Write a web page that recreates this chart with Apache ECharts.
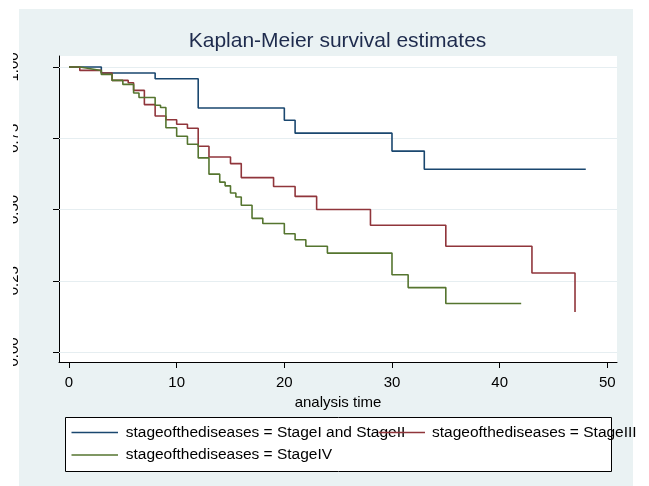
<!DOCTYPE html>
<html>
<head>
<meta charset="utf-8">
<script src="https://cdn.jsdelivr.net/npm/echarts@6/dist/echarts.min.js"></script>
<style>
html, body { margin: 0; padding: 0; background: #fff; }
#chart { width: 649px; height: 486px; }
</style>
</head>
<body>
<div id="chart"></div>
<script>
// Kaplan-Meier 生存曲线 (Stata 风格)

// 刻度
const xTicks = [0, 10, 20, 30, 40, 50];
const yTicks = [0, 0.25, 0.5, 0.75, 1];

// 分组名称
const groupNames = [
    'stageofthediseases = StageI and StageII',
    'stageofthediseases = StageIII',
    'stageofthediseases = StageIV'
];

// StageI and StageII
const stage12Time = [0, 3, 8, 12, 20, 21, 30, 33, 48];
const stage12Surv = [1, 0.979, 0.959, 0.856, 0.813, 0.768, 0.705, 0.641, 0.641];

// StageIII
const stage3Time = [0, 1, 3, 4, 5.5, 6, 7, 8, 9, 10, 11, 12, 13, 15, 16, 19, 21, 23, 28, 35, 43, 47];
const stage3Surv = [1, 0.988, 0.979, 0.953, 0.945, 0.918, 0.868, 0.828, 0.815, 0.799, 0.785, 0.722, 0.684, 0.661, 0.612, 0.581, 0.546, 0.500, 0.445, 0.371, 0.277, 0.140];

// StageIV
const stage4Time = [0, 1, 2, 3, 4, 5, 6, 6.5, 8, 8.5, 9, 10, 11, 12, 13, 14, 14.5, 15, 15.5, 16, 17, 18, 20, 21, 22, 24, 30, 31.5, 35, 42];
const stage4Surv = [1, 0.994, 0.988, 0.974, 0.953, 0.939, 0.909, 0.893, 0.866, 0.858, 0.787, 0.757, 0.729, 0.681, 0.624, 0.596, 0.583, 0.558, 0.544, 0.515, 0.469, 0.451, 0.415, 0.394, 0.371, 0.347, 0.271, 0.226, 0.170, 0.170];

const colors = ['#1a476f', '#90353b', '#55752f'];
const FONT = 'Liberation Sans, Arial, sans-serif';

function pairs(t, s) {
    return t.map((v, i) => [v, s[i]]);
}

const chart = echarts.init(document.getElementById('chart'));

const curves = [
    pairs(stage12Time, stage12Surv),
    pairs(stage3Time, stage3Surv),
    pairs(stage4Time, stage4Surv)
];

const series = [{
    // 水平网格线
    type: 'line',
    data: [],
    z: 1,
    silent: true,
    markLine: {
        silent: true,
        z: 1,
        symbol: 'none',
        label: { show: false },
        lineStyle: { color: '#e6eef1', width: 1, type: 'solid' },
        data: yTicks.map(v => ({ yAxis: v }))
    }
}];

curves.forEach((d, i) => {
    series.push({
        name: groupNames[i],
        type: 'line',
        step: 'end',
        data: d,
        showSymbol: false,
        z: 3,
        lineStyle: { color: colors[i], width: 1.6 },
        itemStyle: { color: colors[i] },
        animation: false
    });
});

const option = {
    backgroundColor: '#fff',
    animation: false,
    grid: {
        left: 59, right: 32, top: 56, bottom: 124,
        show: true, backgroundColor: '#fff', borderWidth: 0
    },
    xAxis: {
        type: 'value',
        min: -0.93, max: 50.9,
        name: 'analysis time',
        nameLocation: 'middle',
        nameGap: 29,
        nameTextStyle: { fontSize: 15, color: '#000', fontFamily: FONT },
        axisLine: { onZero: false, lineStyle: { color: '#000', width: 1 } },
        axisTick: { customValues: xTicks, length: 6, lineStyle: { color: '#000' } },
        axisLabel: { customValues: xTicks, margin: 13, fontSize: 15, color: '#000', fontFamily: FONT },
        splitLine: { show: false }
    },
    yAxis: {
        type: 'value',
        min: -0.035, max: 1.0386,
        axisLine: { show: true, onZero: false, lineStyle: { color: '#000', width: 1 } },
        axisTick: { show: true, customValues: yTicks, length: 6, lineStyle: { color: '#000' } },
        axisLabel: {
            customValues: yTicks, rotate: 90, margin: 38, fontSize: 15,
            color: '#000', fontFamily: FONT,
            formatter: v => v.toFixed(2)
        },
        splitLine: { show: false }
    },
    graphic: [
        // 外层背景
        { type: 'rect', z: -10, silent: true, shape: { x: 19, y: 9, width: 614, height: 477 }, style: { fill: '#eaf2f3' } },
        // 遮住左侧标签的一部分
        { type: 'rect', z: 100, silent: true, shape: { x: 0, y: 0, width: 13, height: 486 }, style: { fill: '#fff' } },
        // 标题
        { type: 'text', z: 10, x: 337.5, y: 41, style: { text: 'Kaplan-Meier survival estimates', font: '21px ' + FONT, fill: '#1e2b4d', align: 'center', verticalAlign: 'middle' } },
        // 图例
        { type: 'rect', z: 10, shape: { x: 65.5, y: 417.5, width: 546, height: 54 }, style: { fill: '#fff', stroke: '#000', lineWidth: 1 } },
        { type: 'line', z: 11, shape: { x1: 71.5, y1: 432.5, x2: 118, y2: 432.5 }, style: { stroke: colors[0], lineWidth: 1.6 } },
        { type: 'text', z: 11, x: 125.7, y: 432.5, style: { text: groupNames[0], font: '15.5px ' + FONT, fill: '#000', verticalAlign: 'middle' } },
        { type: 'line', z: 12, shape: { x1: 378.6, y1: 432.5, x2: 425, y2: 432.5 }, style: { stroke: colors[1], lineWidth: 1.6 } },
        { type: 'text', z: 11, x: 432, y: 432.5, style: { text: groupNames[1], font: '15.5px ' + FONT, fill: '#000', verticalAlign: 'middle' } },
        { type: 'line', z: 11, shape: { x1: 71.5, y1: 455, x2: 118, y2: 455 }, style: { stroke: colors[2], lineWidth: 1.6 } },
        { type: 'text', z: 11, x: 125.7, y: 455, style: { text: groupNames[2], font: '15.5px ' + FONT, fill: '#000', verticalAlign: 'middle' } }
    ],
    series: series
};

chart.setOption(option);
</script>
</body>
</html>
